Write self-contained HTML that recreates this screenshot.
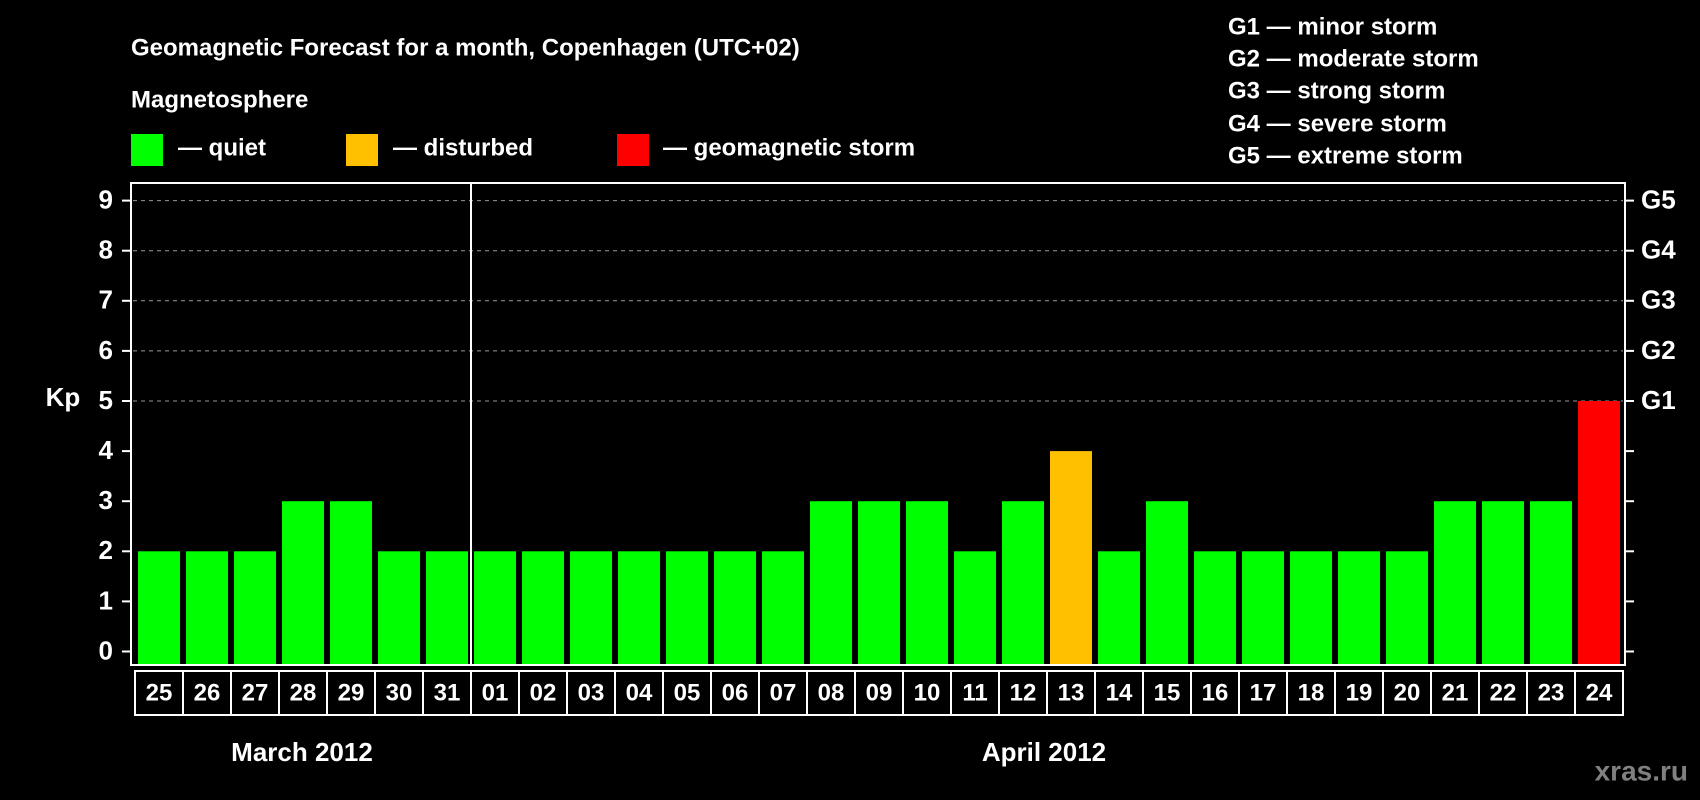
<!DOCTYPE html>
<html><head><meta charset="utf-8"><style>
html,body{margin:0;padding:0;background:#000;}
svg{display:block;font-family:"Liberation Sans",Arial,sans-serif;font-weight:bold;}
</style></head><body>
<svg width="1700" height="800" viewBox="0 0 1700 800">
<rect x="0" y="0" width="1700" height="800" fill="#000"/>
<text x="131" y="49" fill="#fff" font-size="24" dominant-baseline="middle">Geomagnetic Forecast for a month, Copenhagen (UTC+02)</text>
<text x="131" y="101" fill="#fff" font-size="24" dominant-baseline="middle">Magnetosphere</text>
<g><rect x="131" y="134" width="32" height="32" fill="#00ff00"/><text x="178" y="149" fill="#fff" font-size="24" dominant-baseline="middle">— quiet</text></g>
<g><rect x="346" y="134" width="32" height="32" fill="#ffc000"/><text x="393" y="149" fill="#fff" font-size="24" dominant-baseline="middle">— disturbed</text></g>
<g><rect x="617" y="134" width="32" height="32" fill="#ff0000"/><text x="663" y="149" fill="#fff" font-size="24" dominant-baseline="middle">— geomagnetic storm</text></g>
<g fill="#fff" font-size="24">
<text x="1228" y="28" dominant-baseline="middle">G1 — minor storm</text>
<text x="1228" y="60" dominant-baseline="middle">G2 — moderate storm</text>
<text x="1228" y="92" dominant-baseline="middle">G3 — strong storm</text>
<text x="1228" y="125" dominant-baseline="middle">G4 — severe storm</text>
<text x="1228" y="157" dominant-baseline="middle">G5 — extreme storm</text>
</g>
<g id="grid"></g>
<g id="bars"></g>
<rect x="131" y="183" width="1494" height="482" fill="none" stroke="#fff" stroke-width="2"/>
<line x1="471" y1="183" x2="471" y2="665" stroke="#fff" stroke-width="2"/>
<g id="yaxis"></g>
<g id="xaxis"></g>
<text x="63" y="399" fill="#fff" font-size="26" text-anchor="middle" dominant-baseline="middle">Kp</text>
<text x="302" y="754" fill="#fff" font-size="26" text-anchor="middle" dominant-baseline="middle">March 2012</text>
<text x="1044" y="754" fill="#fff" font-size="26" text-anchor="middle" dominant-baseline="middle">April 2012</text>
<text x="1688" y="773" fill="#808080" font-size="28" text-anchor="end" dominant-baseline="middle">xras.ru</text>
</svg>
<script>
const days = ["25","26","27","28","29","30","31","01","02","03","04","05","06","07","08","09","10","11","12","13","14","15","16","17","18","19","20","21","22","23","24"];
const kpValues = [2,2,2,3,3,2,2,2,2,2,2,2,2,2,3,3,3,2,3,4,2,3,2,2,2,2,2,3,3,3,5];
const yTicks = [0,1,2,3,4,5,6,7,8,9];
const gLabels = ["","","","","","G1","G2","G3","G4","G5"];
const NS="http://www.w3.org/2000/svg";
const y0=651.5, unit=50.1, x0=135, pitch=48;
function yScale(v){return y0-v*unit;}
function xScale(i){return x0+i*pitch;}
function colorFor(v){return v>=5?"#ff0000":(v>=4?"#ffc000":"#00ff00");}
function mk(tag,attrs,parent){const e=document.createElementNS(NS,tag);for(const k in attrs)e.setAttribute(k,attrs[k]);parent.appendChild(e);return e;}
const grid=document.getElementById('grid'),bars=document.getElementById('bars'),ya=document.getElementById('yaxis'),xa=document.getElementById('xaxis');
yTicks.forEach((t,i)=>{
  const y=yScale(t);
  if(t>=5){const l=mk('line',{x1:133,x2:1623,y1:y,y2:y,stroke:'#999','stroke-width':1,'stroke-dasharray':'4,4'},grid);
  
  }
  const tl=mk('line',{x1:122,x2:131,y1:y,y2:y,stroke:'#fff','stroke-width':2},ya);
  
  
  const tr=mk('line',{x1:1625,x2:1634,y1:y,y2:y,stroke:'#fff','stroke-width':2},ya);
  
  
  const tx=mk('text',{x:113,y:y+1,fill:'#fff','font-size':26,'text-anchor':'end','dominant-baseline':'middle'},ya);
  tx.textContent=t;
  
  
  if(gLabels[i]){const g=mk('text',{x:1641,y:y+1,fill:'#fff','font-size':26,'dominant-baseline':'middle'},ya);
  g.textContent=gLabels[i];
  
  }
});
kpValues.forEach((v,i)=>{
  const x=xScale(i)+3;
  const r=mk('rect',{x:x,y:yScale(v),width:42,height:y0-yScale(v)+12.5,fill:colorFor(v)},bars);
  
  
});
days.forEach((d,i)=>{
  const x=xScale(i);
  const b=mk('rect',{x:x,y:671,width:pitch,height:44,fill:'none',stroke:'#fff','stroke-width':2},xa);
  
  
  const t=mk('text',{x:x+pitch/2,y:694,fill:'#fff','font-size':24,'text-anchor':'middle','dominant-baseline':'middle'},xa);
  t.textContent=d;
  
  
});
</script>
</body></html>
